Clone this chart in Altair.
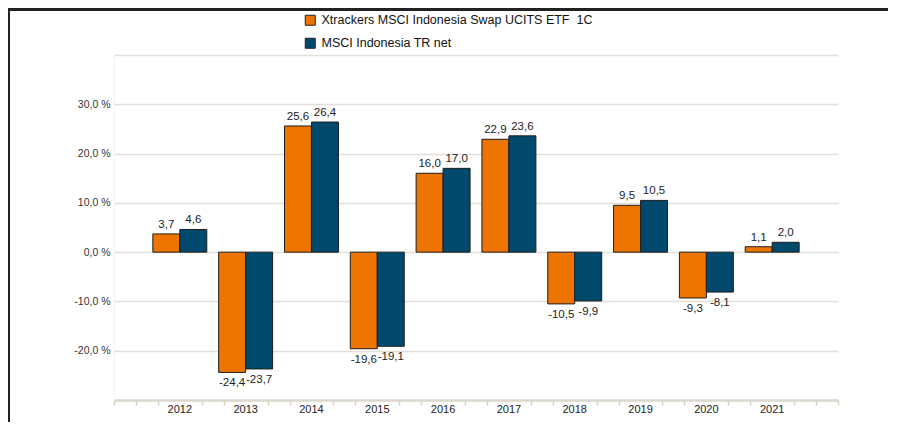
import altair as alt
import pandas as pd

years = ["2012", "2013", "2014", "2015", "2016", "2017", "2018", "2019", "2020", "2021"]
series_names = ["Xtrackers MSCI Indonesia Swap UCITS ETF \u00a01C", "MSCI Indonesia TR net"]
etf_values = [3.7, -24.4, 25.6, -19.6, 16.0, 22.9, -10.5, 9.5, -9.3, 1.1]
index_values = [4.6, -23.7, 26.4, -19.1, 17.0, 23.6, -9.9, 10.5, -8.1, 2.0]
colors = ["#ee7400", "#00486c"]
y_ticks = [-30, -20, -10, 0, 10, 20, 30, 40]
minor_ticks = [0, 1, 2, 4, 5, 7, 8, 10, 11, 13, 14, 16, 17, 19, 20, 22, 23, 25, 26, 28, 29, 31, 32, 33]

rows = []
for i, y in enumerate(years):
    rows.append({"year": y, "series": series_names[0], "value": etf_values[i]})
    rows.append({"year": y, "series": series_names[1], "value": index_values[i]})
df = pd.DataFrame(rows)

W, H = 724, 345
FONT = "Liberation Sans"

x_enc = alt.X("year:N", sort=years,
              scale=alt.Scale(paddingInner=0.18, paddingOuter=0.59),
              axis=alt.Axis(title=None, ticks=False, labelAngle=0, labelPadding=3,
                            labelFontSize=11, labelColor="#222", labelFont=FONT,
                            domainColor="#dcd8cd", domainWidth=2.5, grid=False, orient="bottom"))
xo_enc = alt.XOffset("series:N", sort=series_names, scale=alt.Scale(paddingInner=0, paddingOuter=0))
y_enc = alt.Y("value:Q", scale=alt.Scale(domain=[-30, 40], nice=False, zero=False),
              axis=alt.Axis(title=None, values=y_ticks, ticks=False,
                            labelExpr="(datum.value == 40 || datum.value == -30) ? '' : ((datum.value < 0 ? '-' : '') + abs(datum.value) + ',0 %')",
                            labelFontSize=10.5, labelColor="#333", labelFont=FONT, labelPadding=4,
                            gridColor="#e2dfd8", gridWidth=1.5, domainColor="#f2f2f2", domainWidth=1))

bars = alt.Chart(df).mark_bar(stroke="#1e1e1e", strokeWidth=1).encode(
    x=x_enc, xOffset=xo_enc, y=y_enc,
    color=alt.Color("series:N", sort=series_names,
                    scale=alt.Scale(domain=series_names, range=colors),
                    legend=alt.Legend(title=None, orient="none", legendX=190, legendY=-41,
                                      symbolType="square", symbolSize=100, symbolStrokeColor="#222",
                                      symbolStrokeWidth=1, labelFontSize=12.5, labelFont=FONT,
                                      labelColor="#111", rowPadding=8, labelOffset=5,
                                      labelLimit=400, symbolOpacity=1)),
)

lab_calc = "(datum.value < 0 ? '-' : '') + replace(format(abs(datum.value), '.1f'), '.', ',')"
text_pos = alt.Chart(df).transform_filter("datum.value >= 0").transform_calculate(
    label=lab_calc).mark_text(baseline="bottom", dy=-4, fontSize=11.5, font=FONT, color="#222").encode(
    x=x_enc, xOffset=xo_enc, y=y_enc, text="label:N")
text_neg = alt.Chart(df).transform_filter("datum.value < 0").transform_calculate(
    label=lab_calc).mark_text(baseline="top", dy=5, fontSize=11.5, font=FONT, color="#222").encode(
    x=x_enc, xOffset=xo_enc, y=y_enc, text="label:N")

main = alt.layer(bars, text_pos, text_neg)

ticks_layer = alt.Chart(df).mark_point(opacity=0).encode(
    x=alt.X(datum=0, type="quantitative",
            scale=alt.Scale(domain=[0, 33], nice=False, zero=False),
            axis=alt.Axis(orient="bottom", values=minor_ticks, labels=False, domain=False,
                          ticks=True, tickSize=5, tickColor="#d5d1c6", tickWidth=1.5,
                          grid=False, title=None)))

top_border = alt.Chart(df).mark_rule(color="#222", strokeWidth=2.5, clip=False).encode(
    x=alt.value(-106), x2=alt.value(W + 60), y=alt.value(-46))
left_border = alt.Chart(df).mark_rule(color="#222", strokeWidth=2, clip=False).encode(
    x=alt.value(-105), y=alt.value(-47), y2=alt.value(H + 30))

chart = alt.layer(main, ticks_layer, top_border, left_border).resolve_scale(
    x="independent").properties(
    width=W, height=H,
    autosize=alt.AutoSizeParams(type="none"),
    padding={"left": 106, "top": 47, "right": 50, "bottom": 22},
    background="white",
).configure_view(stroke=None)

chart.save("out.html", embed_options={"renderer": "svg", "actions": False})
